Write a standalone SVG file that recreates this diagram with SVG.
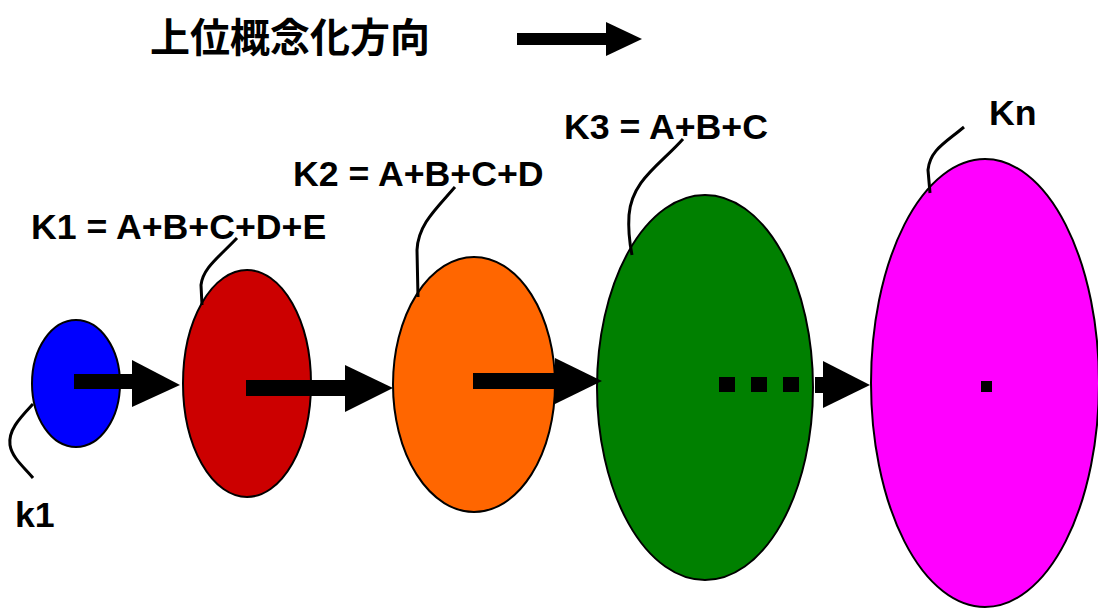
<svg xmlns="http://www.w3.org/2000/svg" width="1098" height="608" viewBox="0 0 1098 608">
<style>
.lbl{font-family:"Liberation Sans",Arial,sans-serif;font-weight:bold;font-size:35.7px;fill:#000}
.ttl{font-family:"Noto Sans CJK JP","Noto Sans CJK SC",sans-serif;font-weight:bold;font-size:40px;fill:#000}
.el{stroke:#000;stroke-width:2}
.lead{fill:none;stroke:#000;stroke-width:3}
.blk{fill:#000}
</style>
<rect width="1098" height="608" fill="#fff"/>
<g id="title">
<text class="ttl" x="150" y="52">上位概念化方向</text>
<rect class="blk" x="517" y="33" width="90" height="12"/>
<polygon class="blk" points="606,22 642,39 606,56"/>
</g>
<g id="node-k1">
<ellipse class="el" cx="76" cy="383.5" rx="44" ry="63.5" fill="#0000ff"/>
<path class="lead" d="M33,404 C20,418 8,430 10,445 C12,458 25,468 33,478"/>
<text class="lbl" x="15" y="527">k1</text>
</g>
<g id="node-K1">
<ellipse class="el" cx="247" cy="383.5" rx="64" ry="113.5" fill="#cc0000"/>
<path class="lead" d="M237,238 C218,258 203,268 201,285 L202,305"/>
<text class="lbl" x="31" y="239">K1 = A+B+C+D+E</text>
</g>
<g id="node-K2">
<ellipse class="el" cx="474" cy="384.5" rx="81" ry="127.5" fill="#ff6600"/>
<path class="lead" d="M455,187 C435,210 418,225 417,250 L418,297"/>
<text class="lbl" x="293" y="186">K2 = A+B+C+D</text>
</g>
<g id="node-K3">
<ellipse class="el" cx="705" cy="387.5" rx="108" ry="192.5" fill="#008000"/>
<path class="lead" d="M683,139 C660,165 632,180 629,215 C628,230 630,245 632,255"/>
<text class="lbl" x="564" y="139">K3 = A+B+C</text>
</g>
<g id="node-Kn">
<ellipse class="el" cx="985" cy="383" rx="114" ry="224" fill="#ff00ff"/>
<path class="lead" d="M964,127 C945,143 930,150 928,170 L930,193"/>
<text class="lbl" x="989" y="125">Kn</text>
<rect class="blk" x="981" y="381" width="11" height="11"/>
</g>
<g id="connectors">
<rect class="blk" x="74" y="374" width="59" height="15"/>
<polygon class="blk" points="132,360 180,385 132,407"/>
<rect class="blk" x="246" y="380" width="100" height="16"/>
<polygon class="blk" points="345,365 393,388 345,412"/>
<rect class="blk" x="473" y="373" width="83" height="16"/>
<polygon class="blk" points="555,358 602,381 555,404"/>
<rect class="blk" x="719" y="377" width="16" height="15"/>
<rect class="blk" x="751" y="377" width="16" height="15"/>
<rect class="blk" x="783" y="377" width="16" height="15"/>
<rect class="blk" x="815" y="377" width="9" height="16"/>
<polygon class="blk" points="823,361 870,385 823,408"/>
</g>
</svg>
